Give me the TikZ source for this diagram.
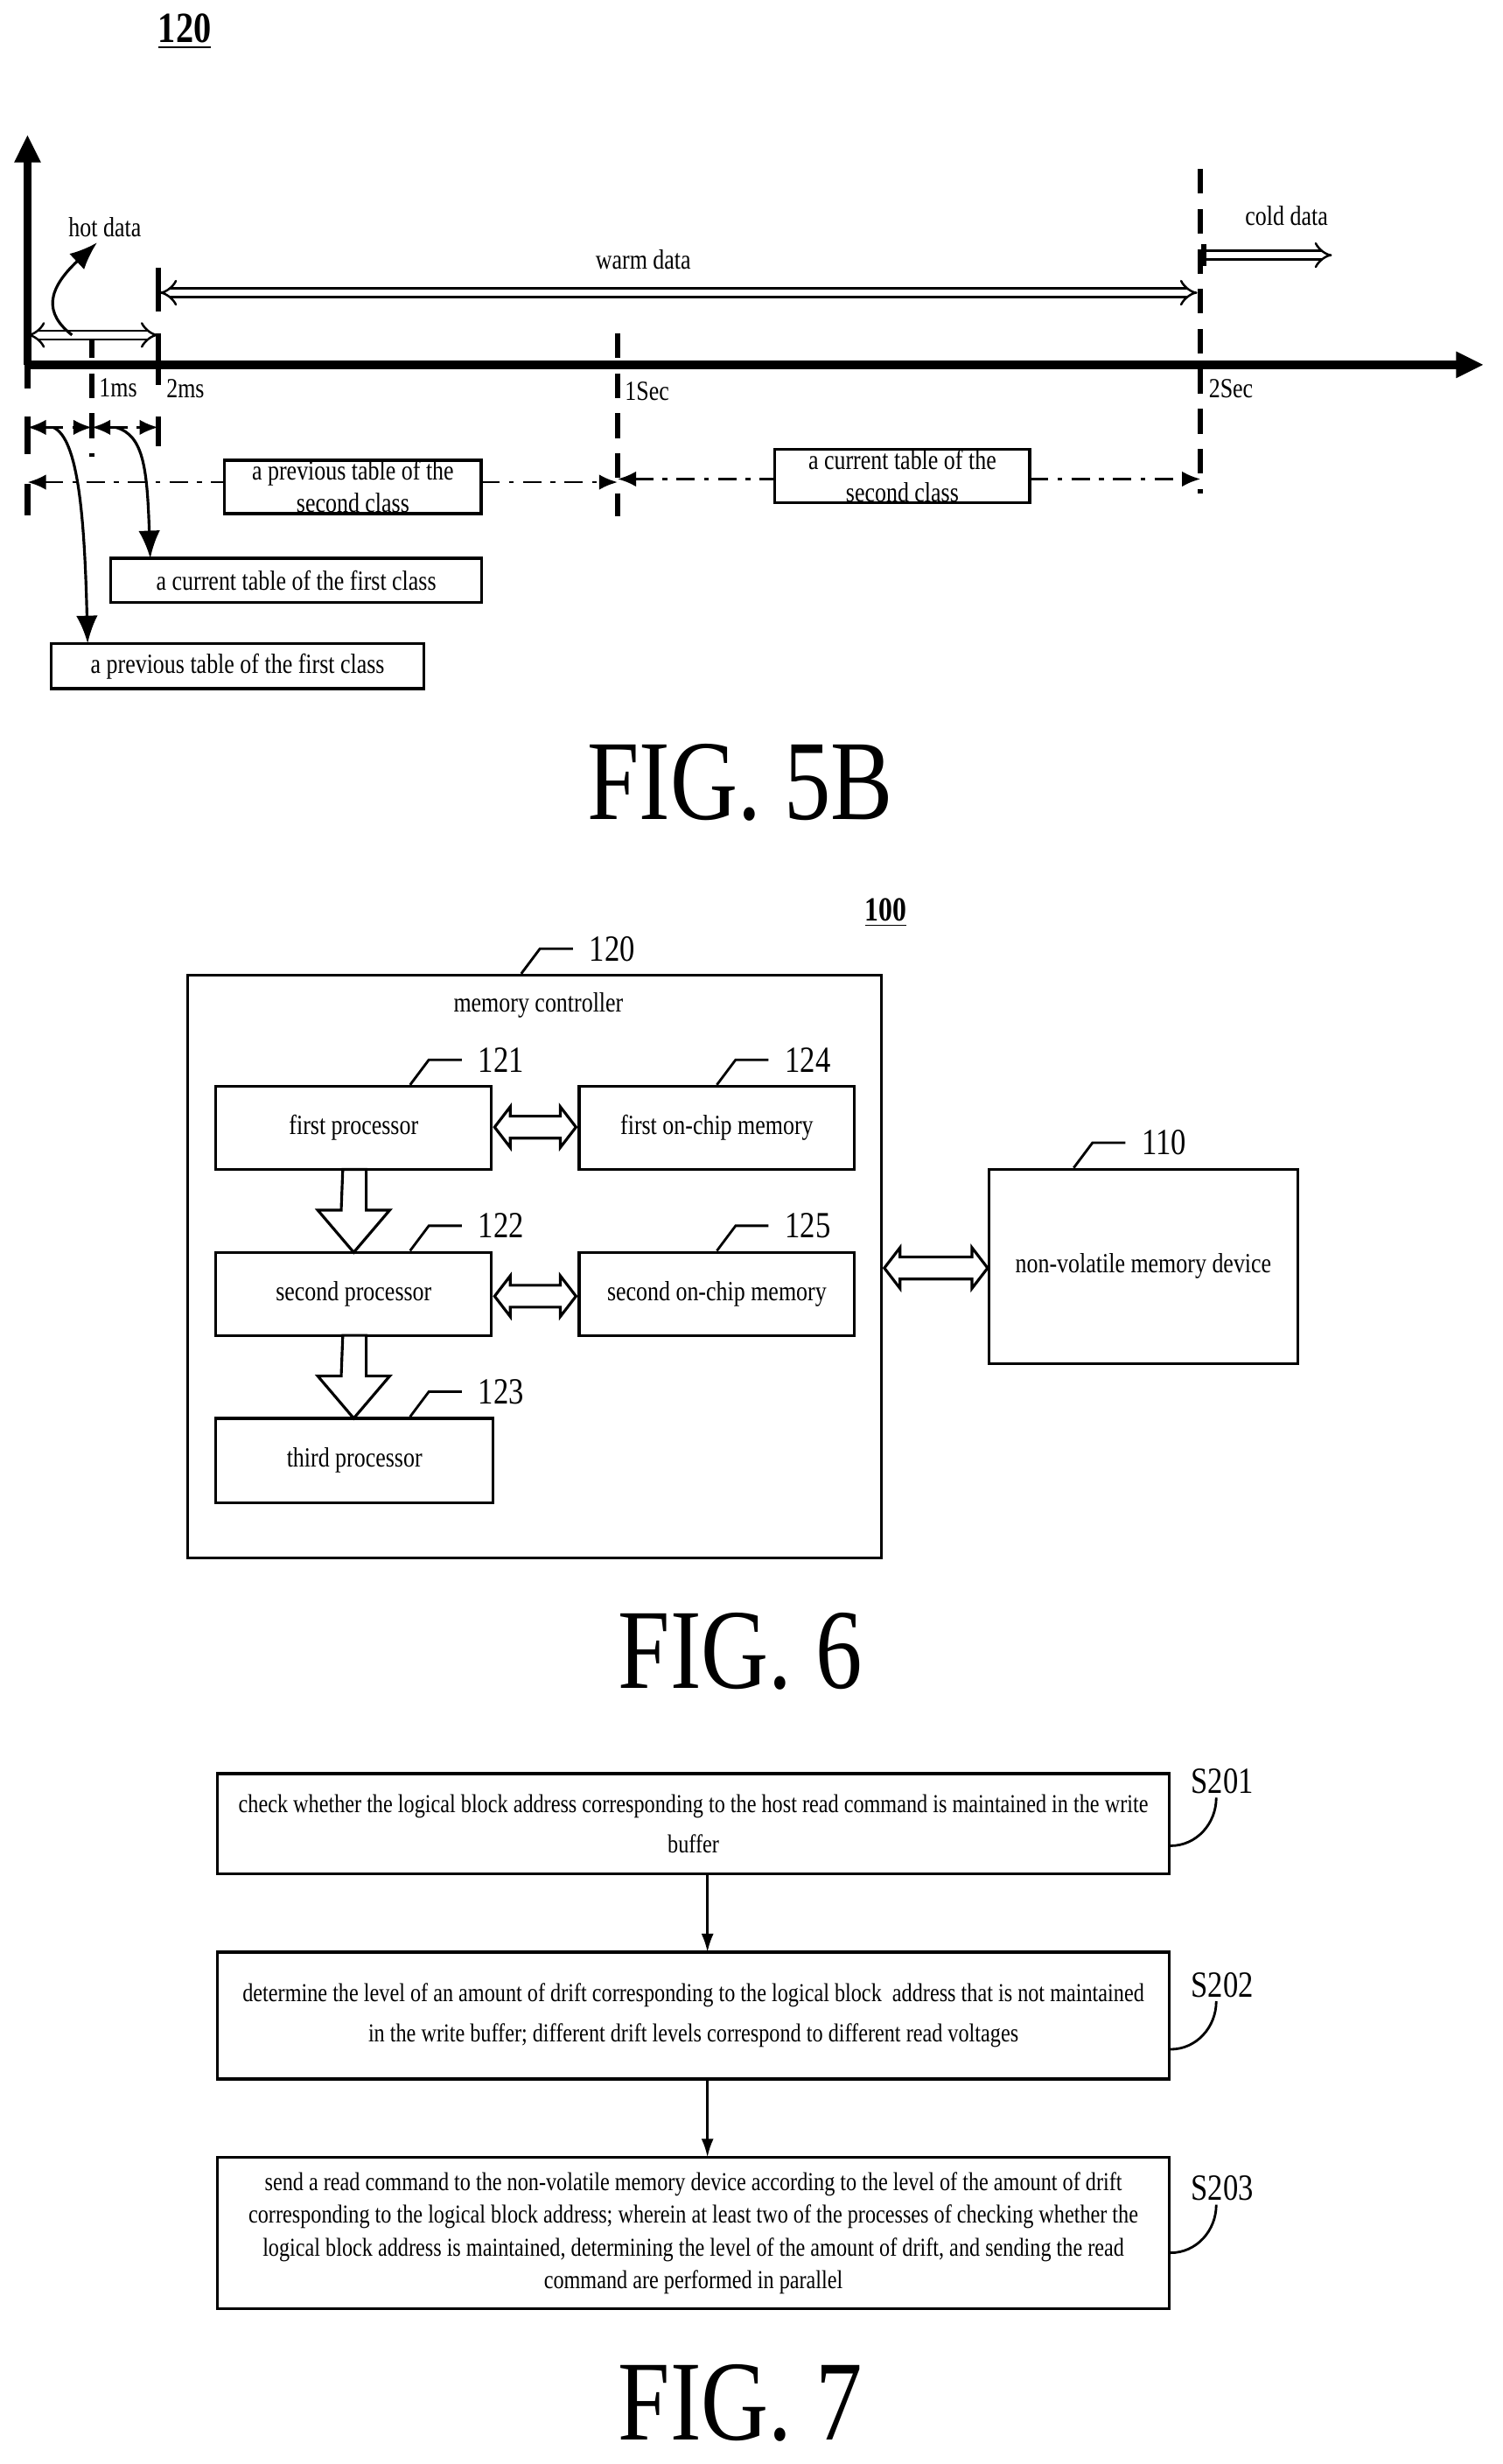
\documentclass[tikz,border=0pt]{standalone}
\usepackage{fontspec}
\setmainfont[FakeStretch=0.82]{Liberation Serif}
\usetikzlibrary{calc,arrows.meta,positioning}
\tikzset{
  lbl/.style = {inner sep=1pt, font=\fontsize{9}{10.5}\selectfont},
  num/.style = {inner sep=1pt, font=\fontsize{12}{13}\selectfont},
  fig/.style = {inner sep=0pt, font=\fontsize{37}{37}\selectfont},
  box/.style = {draw, line width=0.9pt, align=center, inner sep=2pt,
    font=\fontsize{9}{10.5}\selectfont},
  stepbox/.style = {box, font=\fontsize{8.4}{13}\selectfont, minimum width=608*0.01789cm},
  tbox/.style = {box, fill=white, line width=1pt},
  axis/.style = {line width=2.8pt, -{Triangle[length=9pt,width=8pt]}},
  tick/.style = {line width=1.8pt},
  dtick/.style = {line width=1.8pt, dash pattern=on 8pt off 5pt},
  dashdot/.style = {line width=0.8pt, dash pattern=on 6pt off 3pt on 1.5pt off 3pt},
  span/.style = {dashdot, {Latex[length=6pt,width=5pt]}-{Latex[length=6pt,width=5pt]}},
  ptr/.style = {line width=0.9pt, -{Latex[length=9pt,width=7pt]}},
  datarange/.style = {double, double distance=2.2pt, line width=0.7pt},
  hollow/.style = {draw, line width=0.9pt, fill=white},
  lead/.style = {line width=0.8pt}
}
\begin{document}
\begin{tikzpicture}[x=0.01789cm, y=-0.01789cm]
\useasboundingbox (0,0) rectangle (960,1574);

% ---------- FIG. 5B ----------
\node[font=\bfseries\fontsize{14}{14}\selectfont, inner sep=0pt] (t120) at (118,20) {\underline{120}};
\coordinate (o) at (17.6,233);
\coordinate (xend) at (948,233);
\coordinate (yend) at (17.6,86);
\draw[axis] (o) -- (yend);
\draw[axis] (o) -- (xend);
\draw[tick] (o) -- (17.6,248);
\draw[dtick] (58.7,213) -- (58.7,292);
\draw[tick] (101,171) -- (101,199);
\draw[tick] (101,213) -- (101,246);
\draw[dtick] (394.6,213) -- (394.6,330);
\draw[dtick] (767,108) -- (767,315);
\node[lbl, anchor=west] (l1ms) at (61,248) {1ms};
\node[lbl, anchor=west] (l2ms) at (104,248) {2ms};
\node[lbl, anchor=west] (l1s) at (397,250) {1Sec};
\node[lbl, anchor=west] (l2s) at (770,248) {2Sec};

\node[lbl] (hot) at (67,145) {hot data};
\node[lbl] (warm) at (411,166) {warm data};
\node[lbl] (cold) at (822,138) {cold data};
\coordinate (h0) at (17.6,214);
\coordinate (h1) at (101,214);
\draw[datarange, {Implies}-{Implies}] (h0) -- (h1);
\draw[ptr] (46,214) .. controls (28,200) and (30,185) .. (62,155);
\draw[datarange, {Implies}-{Implies}] (102,187) -- (765,187);
\draw[datarange, -{Implies}] (769,163) -- (851,163);
\draw[tick] (769,156) -- (769,170);

\draw[tick] (17.6,266) -- (17.6,290);
\draw[tick] (101,266) -- (101,285);
\draw[tick] (17.6,309) -- (17.6,329);
\draw[span] (17.6,273) -- (58.7,273);
\draw[span] (58.7,273) -- (101,273);

\node[tbox, minimum width=164*0.01789cm, minimum height=34*0.01789cm] (prev2) at (225.5,311) {};
\node[lbl, align=center] at (prev2) {a previous table of the\\second class};
\node[tbox, minimum width=163*0.01789cm, minimum height=34*0.01789cm] (cur2) at (576.5,304) {};
\node[lbl, align=center] at (cur2) {a current table of the\\second class};
\draw[dashdot, {Latex[length=6pt,width=5pt]}-] (17.6,308) -- (143.5,308);
\draw[dashdot, -{Latex[length=6pt,width=5pt]}] (307.5,308) -- (394.6,308);
\draw[dashdot, {Latex[length=6pt,width=5pt]}-] (394.6,306) -- (495,306);
\draw[dashdot, -{Latex[length=6pt,width=5pt]}] (658,306) -- (767,306);

\node[tbox, minimum width=237*0.01789cm, minimum height=28*0.01789cm] (cur1) at (189.3,370.7) {a current table of the first class};
\node[tbox, minimum width=238*0.01789cm, minimum height=29*0.01789cm] (prev1) at (151.8,425.5) {a previous table of the first class};
\draw[ptr] (74,273) .. controls (92,278) and (94,300) .. (96,356.7);
\draw[ptr] (34,273) .. controls (50,280) and (54,330) .. (56,411);

\node[fig] (f5b) at (473,500) {FIG. 5B};

% ---------- FIG. 6 ----------
\node[font=\bfseries\fontsize{11}{11}\selectfont, inner sep=0pt] (t100) at (566,583) {\underline{100}};
\draw[line width=0.9pt] (120,623) rectangle (563,995);
\node[lbl] (mclbl) at (344,642) {memory controller};
\node[box, minimum width=176*0.01789cm, minimum height=53*0.01789cm] (p1) at (226,720.5) {first processor};
\node[box, minimum width=176*0.01789cm, minimum height=53*0.01789cm] (m1) at (458,720.5) {first on-chip memory};
\node[box, minimum width=176*0.01789cm, minimum height=53*0.01789cm] (p2) at (226,826.5) {second processor};
\node[box, minimum width=176*0.01789cm, minimum height=53*0.01789cm] (m2) at (458,826.5) {second on-chip memory};
\node[box, minimum width=177*0.01789cm, minimum height=54*0.01789cm] (p3) at (226.5,933) {third processor};
\node[box, minimum width=197*0.01789cm, minimum height=124*0.01789cm] (nvm) at (730.5,809) {non-volatile memory device};

% leaders
\foreach \x/\y/\n in {333/622/120, 262/693/121, 458/693/124, 262/799/122, 458/799/125, 262/905/123, 686/746/110}
  \draw[lead] (\x,\y) -- ++(12,-16) -- ++(21,0) node[num, anchor=west, xshift=4pt] {\n};

% hollow arrows
\foreach \y in {720,828}
  \draw[hollow] (316,\y) -- ++(10,-13) -- ++(0,6) -- ++(32,0) -- ++(0,-6) -- (368,\y)
    -- ++(-10,13) -- ++(0,-6) -- ++(-32,0) -- ++(0,6) -- cycle;
\draw[hollow] (565,810) -- ++(10,-13) -- ++(0,6) -- ++(46,0) -- ++(0,-6) -- (631,810)
    -- ++(-10,13) -- ++(0,-6) -- ++(-46,0) -- ++(0,6) -- cycle;
\foreach \y in {747,853}
  \draw[hollow] (219,\y) -- ++(15,0) -- ++(0,26) -- ++(15,0) -- (226,\y+53)
    -- ++(-23,-27) -- ++(15,0) -- cycle;

\node[fig] (f6) at (473,1055) {FIG. 6};

% ---------- FIG. 7 ----------
\node[stepbox, minimum height=64*0.01789cm] (s1) at (443,1165)
  {check whether the logical block address corresponding to the host read command is maintained in the write\\buffer};
\node[stepbox, minimum height=81*0.01789cm] (s2) at (443,1287.5)
  {determine the level of an amount of drift corresponding to the logical block\ \ address that is not maintained\\in the write buffer; different drift levels correspond to different read voltages};
\node[stepbox, minimum height=97*0.01789cm, font=\fontsize{8.4}{10.6}\selectfont] (s3) at (443,1426.5)
  {send a read command to the non-volatile memory device according to the level of the amount of drift\\corresponding to the logical block address; wherein at least two of the processes of checking whether the\\logical block address is maintained, determining the level of the amount of drift, and sending the read\\command are performed in parallel};
\draw[ptr, line width=0.7pt, -{Latex[length=6pt,width=4pt]}] (452,1197) -- (452,1247);
\draw[ptr, line width=0.7pt, -{Latex[length=6pt,width=4pt]}] (452,1328) -- (452,1378);
\node[num] (n1) at (781,1138) {S201};
\node[num] (n2) at (781,1268) {S202};
\node[num] (n3) at (781,1398) {S203};
\foreach \s/\n in {s1/n1, s2/n2, s3/n3}
  \draw[lead] ([yshift=-0.55cm]\s.east |- \n.south) to[out=0, in=-90] ([xshift=-2pt]\n.south);

\node[fig] (f7) at (473,1535) {FIG. 7};
\end{tikzpicture}
\end{document}
